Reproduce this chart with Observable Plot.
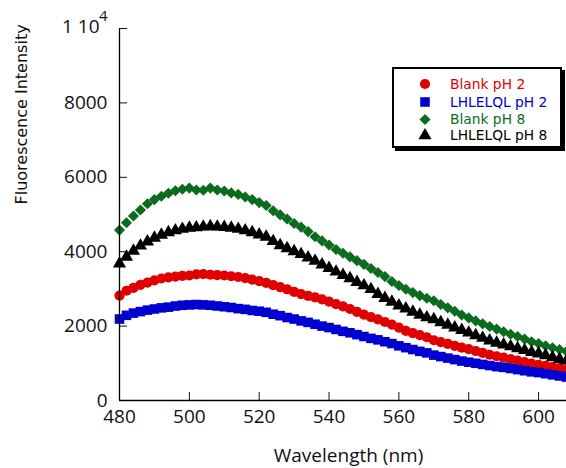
<!DOCTYPE html>
<html>
<head>
<meta charset="utf-8">
<script src="https://cdn.jsdelivr.net/npm/d3@7"></script>
<script src="https://cdn.jsdelivr.net/npm/@observablehq/plot@0.6"></script>
<style>
  body { margin: 0; background: #fff; }
  #wrap { position: relative; width: 566px; height: 468px; }
  #legend { position: absolute; left: 392px; top: 67px; width: 166px; height: 77px;
            border: 2px solid #000; box-shadow: 3px 3px 0 #000; background: #fff; }
  #legend svg { display: block; }
</style>
</head>
<body>
<div id="wrap"><div id="legend"></div></div>
<script>
// ---- data ----
const wavelengths = [480,482,484,486,488,490,492,494,496,498,500,502,504,506,508,510,512,514,516,518,
  520,522,524,526,528,530,532,534,536,538,540,542,544,546,548,550,552,554,556,558,
  560,562,564,566,568,570,572,574,576,578,580,582,584,586,588,590,592,594,596,598,
  600,602,604,606,608];

const blankPH2 = [2820,2950,3030,3110,3170,3230,3280,3310,3330,3350,3360,3390,3400,3380,3370,3360,3340,3320,3290,3250,
  3210,3160,3100,3050,2990,2920,2860,2810,2770,2720,2660,2590,2530,2460,2380,2310,2240,2180,2110,2040,
  1960,1870,1810,1760,1700,1620,1570,1520,1470,1420,1380,1330,1280,1230,1190,1150,1110,1070,1030,990,
  960,930,900,870,840];

const peptidePH2 = [2190,2290,2350,2390,2430,2460,2490,2510,2540,2560,2570,2580,2570,2560,2540,2520,2500,2470,2450,2420,
  2400,2370,2320,2280,2230,2190,2140,2100,2050,2000,1960,1910,1860,1820,1770,1720,1670,1630,1580,1530,
  1470,1420,1370,1320,1280,1220,1180,1140,1100,1060,1030,1000,970,940,910,890,860,830,800,770,
  750,720,690,660,630];

const blankPH8 = [4580,4780,4960,5120,5290,5400,5490,5570,5640,5680,5710,5660,5650,5710,5660,5630,5580,5540,5470,5400,
  5320,5240,5100,4990,4880,4760,4660,4540,4400,4290,4180,4060,3960,3860,3760,3660,3550,3440,3330,3200,
  3090,2990,2900,2820,2750,2680,2580,2490,2400,2300,2220,2140,2060,1990,1920,1850,1780,1720,1650,1580,
  1530,1470,1420,1370,1320];

const peptidePH8 = [3680,3860,4020,4160,4270,4370,4450,4520,4570,4610,4640,4650,4670,4680,4670,4660,4640,4610,4570,4520,
  4460,4400,4280,4170,4090,4010,3930,3840,3750,3650,3560,3460,3370,3280,3180,3090,2990,2860,2750,2650,
  2550,2470,2380,2300,2230,2180,2100,2030,1960,1890,1820,1750,1680,1610,1550,1500,1450,1400,1350,1300,
  1260,1210,1160,1110,1070];

const seriesNames = ["Blank pH 2", "LHLELQL pH 2", "Blank pH 8", "LHLELQL pH 8"];
const seriesValues = [blankPH2, peptidePH2, blankPH8, peptidePH8];
const seriesColors = ["#e00000", "#0000d0", "#0b6b1e", "#000000"];
const seriesSymbols = ["circle", "square", "diamond2", "triangle"];
const seriesRadius = [5.1, 5.4, 5.0, 4.9];

const xDomain = [480, 608];
const yDomain = [0, 10000];
const xTicks = [480, 500, 520, 540, 560, 580, 600];
const xTickLabels = ["480", "500", "520", "540", "560", "580", "600"];
const yTicks = [0, 2000, 4000, 6000, 8000, 10000];
const yTickLabels = ["0", "2000", "4000", "6000", "8000", ""];
const yTopLabel = [{value: 10000, base: "1 10", exp: "4"}];
const xTitle = "Wavelength (nm)";
const yTitle = "Fluorescence Intensity";

// ---- chart ----
const dotMarks = seriesValues.map((vals, k) =>
  Plot.dot(wavelengths, {
    x: d => d,
    y: (d, i) => vals[i],
    symbol: seriesSymbols[k],
    r: seriesRadius[k],
    fill: seriesColors[k],
    stroke: "none"
  })
);

const chart = Plot.plot({
  width: 566,
  height: 468,
  marginLeft: 119,
  marginRight: 0,
  marginTop: 28,
  marginBottom: 68,
  style: {fontFamily: "'Open Sans', sans-serif", fontSize: "19px", color: "#111", background: "#fff", overflow: "visible"},
  x: {domain: xDomain},
  y: {domain: yDomain},
  marks: [
    ...dotMarks,
    Plot.axisX({ticks: xTicks, tickFormat: d => xTickLabels[xTicks.indexOf(d)], tickSize: 8, dy: -8, tickPadding: 9, label: null, fontSize: 19}),
    Plot.axisY({ticks: yTicks, tickFormat: d => yTickLabels[yTicks.indexOf(d)], tickSize: 8, dx: 8, tickPadding: 12, label: null, fontSize: 19}),
    Plot.text(yTopLabel, {y: "value", text: "base", frameAnchor: "left", textAnchor: "end", dx: -20, dy: -2, fontSize: 19}),
    Plot.text(yTopLabel, {y: "value", text: "exp", frameAnchor: "left", textAnchor: "end", dx: -12, dy: -12, fontSize: 15}),
    Plot.ruleX([xDomain[0]], {stroke: "#000", strokeWidth: 1.3}),
    Plot.ruleY([yDomain[0]], {stroke: "#000", strokeWidth: 1.3}),
    Plot.text([xTitle], {frameAnchor: "bottom", dx: 5.5, dy: 55, fontSize: 19, lineAnchor: "middle"}),
    Plot.text([yTitle], {frameAnchor: "left", dx: -98, dy: -10, rotate: -90, fontSize: 16, fontFamily: "DejaVu Sans", lineAnchor: "middle"})
  ]
});
document.getElementById("wrap").prepend(chart);

// ---- legend ----
const symbolMap = {circle: d3.symbolCircle, square: d3.symbolSquare, diamond2: d3.symbolDiamond2, triangle: d3.symbolTriangle};
const lg = d3.select("#legend").append("svg").attr("width", 166).attr("height", 77);
const rowY = [15, 33, 50.5, 66.5];
seriesNames.forEach((name, k) => {
  const g = lg.append("g").attr("transform", `translate(0,${rowY[k]})`);
  g.append("path")
    .attr("transform", "translate(31,0)")
    .attr("d", d3.symbol(symbolMap[seriesSymbols[k]], Math.PI * seriesRadius[k] * seriesRadius[k])())
    .attr("fill", seriesColors[k]);
  g.append("text")
    .attr("x", 56).attr("y", 0).attr("dy", "0.36em")
    .attr("fill", seriesColors[k])
    .style("font-family", "'DejaVu Sans', sans-serif")
    .style("font-size", "13.8px")
    .text(name);
});
</script>
</body>
</html>
